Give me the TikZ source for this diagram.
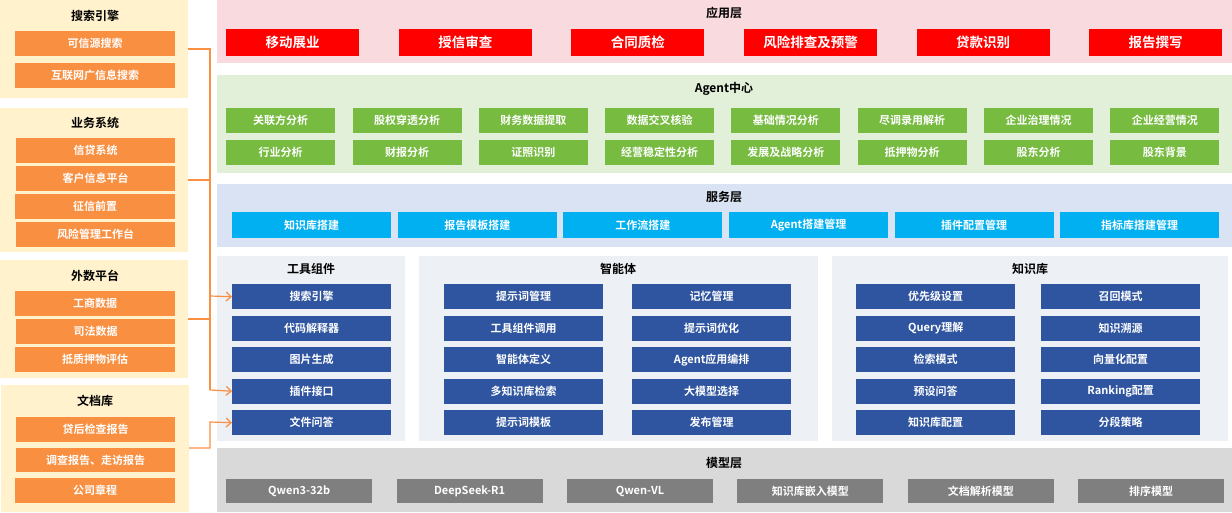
\documentclass[tikz,border=0pt]{standalone}
\usepackage{fontspec}
\setmainfont{Noto Sans CJK SC}[BoldFont={* Bold}]
\usetikzlibrary{arrows.meta}
\definecolor{cRed}{HTML}{FF0000}
\definecolor{cGreen}{HTML}{77BB41}
\definecolor{cCyan}{HTML}{00B0F0}
\definecolor{cBlue}{HTML}{2F55A0}
\definecolor{cGrey}{HTML}{7F7F7F}
\definecolor{cOrange}{HTML}{F98F40}
\definecolor{bgYellow}{HTML}{FFF2CC}
\definecolor{bgPink}{HTML}{F9DBDF}
\definecolor{bgGreen}{HTML}{E2F0D9}
\definecolor{bgBlue}{HTML}{DAE3F3}
\definecolor{bgPanel}{HTML}{EDF0F5}
\definecolor{bgGrey}{HTML}{D9D9D9}
\tikzset{
 bx/.style={draw=none,fill=#1,text=white,font=\bfseries\fontsize{11}{13}\selectfont,inner sep=0pt,anchor=north west},
 ttl/.style={font=\bfseries\fontsize{12}{14}\selectfont,text=black,anchor=center},
 conn/.style={draw=cOrange,line width=1.2pt},
 arr/.style={conn,-{Straight Barb[length=5pt,width=9pt]}}
}
\newcommand{\mybox}[7]{\node[bx=#1,minimum width=#4pt,minimum height=#5pt] (#6) at (#2,#3) {#7};}
\begin{document}
\begin{tikzpicture}[x=1pt,y=-1pt]
\useasboundingbox (0,0) rectangle (1232,512);
% left panels
\fill[bgYellow] (0,0) rectangle (188,98);
\fill[bgYellow] (0,108) rectangle (188,252);
\fill[bgYellow] (0,260) rectangle (188,378);
\fill[bgYellow] (1,385) rectangle (189,512);
\node[ttl] (t1) at (95,16) {搜索引擎};
\node[ttl] (t2) at (95,123) {业务系统};
\node[ttl] (t3) at (95,276) {外数平台};
\node[ttl] (t4) at (95,401) {文档库};
\mybox{cOrange}{15}{31}{160}{25}{s1}{可信源搜索}
\mybox{cOrange}{15}{63}{160}{25}{s2}{互联网广信息搜索}
\mybox{cOrange}{16}{138}{159}{25}{b1}{信贷系统}
\mybox{cOrange}{16}{166}{159}{25}{b2}{客户信息平台}
\mybox{cOrange}{15}{194}{160}{25}{b3}{征信前置}
\mybox{cOrange}{16}{222}{159}{25}{b4}{风险管理工作台}
\mybox{cOrange}{15}{291}{160}{25}{w1}{工商数据}
\mybox{cOrange}{16}{319}{159}{25}{w2}{司法数据}
\mybox{cOrange}{15}{347}{160}{25}{w3}{抵质押物评估}
\mybox{cOrange}{16}{417}{159}{25}{d1}{贷后检查报告}
\mybox{cOrange}{16}{448}{159}{24}{d2}{调查报告、走访报告}
\mybox{cOrange}{15}{478}{160}{25}{d3}{公司章程}
% layers
\fill[bgPink] (217,0) rectangle (1232,63);
\fill[bgGreen] (217,75) rectangle (1232,173);
\fill[bgBlue] (217,184) rectangle (1232,247);
\fill[bgPanel] (217,256) rectangle (405,441);
\fill[bgPanel] (419,256) rectangle (818,441);
\fill[bgPanel] (832,256) rectangle (1228,441);
\fill[bgGrey] (217,448) rectangle (1232,512);
\node[ttl] (L1) at (724,13) {应用层};
\node[ttl] (L2) at (724,89) {Agent中心};
\node[ttl] (L3) at (724,197) {服务层};
\node[ttl] (P1) at (311,269) {工具组件};
\node[ttl] (P2) at (618,269) {智能体};
\node[ttl] (P3) at (1030,269) {知识库};
\node[ttl] (L5) at (724,463) {模型层};
% app
\foreach \t [count=\i from 0] in {移动展业,授信审查,合同质检,风险排查及预警,贷款识别,报告撰写}
 \node[bx=cRed,minimum width=133pt,minimum height=27pt,font=\bfseries\fontsize{13.5}{15}\selectfont] (a\i) at ({226+172.6*\i},29) {\t};
% agent center
\foreach \t [count=\i from 0] in {关联方分析,股权穿透分析,财务数据提取,数据交叉核验,基础情况分析,尽调录用解析,企业治理情况,企业经营情况}
 \node[bx=cGreen,minimum width=109pt,minimum height=25pt] (g\i) at ({226+126.3*\i},108) {\t};
\foreach \t [count=\i from 0] in {行业分析,财报分析,证照识别,经营稳定性分析,发展及战略分析,抵押物分析,股东分析,股东背景}
 \node[bx=cGreen,minimum width=109pt,minimum height=25pt] (h\i) at ({226+126.3*\i},140) {\t};
% service
\foreach \t [count=\i from 0] in {知识库搭建,报告模板搭建,工作流搭建,Agent搭建管理,插件配置管理,指标库搭建管理}
 \node[bx=cCyan,minimum width=159pt,minimum height=26pt] (v\i) at ({232+165.6*\i},212) {\t};
% tools
\foreach \t [count=\i from 0] in {搜索引擎,代码解释器,图片生成,插件接口,文件问答}
 \node[bx=cBlue,minimum width=159pt,minimum height=25pt] (k\i) at (232,{284+31.5*\i}) {\t};
\foreach \t [count=\i from 0] in {提示词管理,工具组件调用,智能体定义,多知识库检索,提示词模板}
 \node[bx=cBlue,minimum width=159pt,minimum height=25pt] (m\i) at (444,{284+31.5*\i}) {\t};
\foreach \t [count=\i from 0] in {记忆管理,提示词优化,Agent应用编排,大模型选择,发布管理}
 \node[bx=cBlue,minimum width=159pt,minimum height=25pt] (n\i) at (632,{284+31.5*\i}) {\t};
\foreach \t [count=\i from 0] in {优先级设置,Query理解,检索模式,预设问答,知识库配置}
 \node[bx=cBlue,minimum width=159pt,minimum height=25pt] (p\i) at (856,{284+31.5*\i}) {\t};
\foreach \t [count=\i from 0] in {召回模式,知识溯源,向量化配置,Ranking配置,分段策略}
 \node[bx=cBlue,minimum width=159pt,minimum height=25pt] (q\i) at (1041,{284+31.5*\i}) {\t};
% models
\foreach \t [count=\i from 0] in {Qwen3-32b,DeepSeek-R1,Qwen-VL,知识库嵌入模型,文档解析模型,排序模型}
 \node[bx=cGrey,minimum width=146pt,minimum height=24pt] (z\i) at ({226+170.4*\i},479) {\t};
% connectors
\coordinate (j1) at (210,49);
\coordinate (j4) at (210,390);
\draw[conn] (188,49) -- (j1) -- (j4);
\draw[conn] (188,180) -- (210,180);
\draw[conn] (188,319) -- (210,319);
\draw[arr] (210,296) -- (k0.west);
\draw[arr] (j4) -- (k3.west);
\draw[arr] (189,448) -- (210,448) -- (210,422) -- (k4.west);
\end{tikzpicture}
\end{document}
